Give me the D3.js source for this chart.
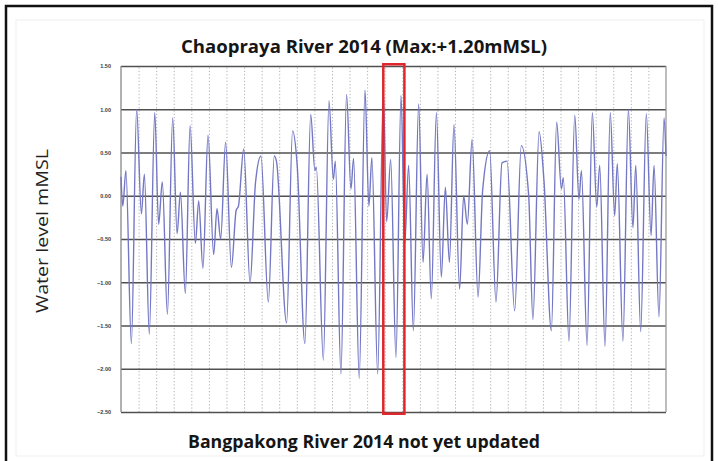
<!DOCTYPE html>
<html>
<head>
<meta charset="utf-8">
<script src="https://cdn.jsdelivr.net/npm/d3@7"></script>
<style>
  body { margin: 0; background: #fff; }
  svg { display: block; }
  .levelAxis text { font-family: "Liberation Sans", Arial, sans-serif; font-size: 5.5px; font-weight: bold; fill: #3a3a3a; }
  .chartTitle { font-family: "Open Sans", "Noto Sans", sans-serif; font-weight: 700; fill: #151515; }
</style>
</head>
<body>
<svg id="chart" width="718" height="461"></svg>
<script>
// Tide extremes (day of month, water level in mMSL).
var tideDay = [
  0.00, 0.10, 0.28, 0.59, 0.89, 1.16, 1.33, 1.61, 1.92, 2.14, 2.35, 2.64, 2.94, 3.19, 3.38, 3.66,
  3.93, 4.23, 4.42, 4.66, 4.95, 5.27, 5.46, 5.67, 5.95, 6.28, 6.55, 6.68, 6.98, 7.34, 7.65, 7.96,
  8.38, 8.72, 8.85, 9.42, 9.76, 10.02, 10.46, 10.79, 11.03, 11.11, 11.51, 11.83, 12.08, 12.19,
  12.51, 12.83, 13.08, 13.23, 13.55, 13.88, 14.10, 14.27, 14.60, 14.92, 15.11, 15.34, 15.64, 15.93,
  16.14, 16.36, 16.63, 16.93, 17.18, 17.41, 17.65, 17.94, 18.22, 18.45, 18.68, 18.94, 19.26, 19.49,
  19.70, 19.97, 20.31, 20.57, 20.97, 21.33, 21.67, 21.96, 22.39, 22.77, 23.19, 23.43, 23.78, 24.06,
  24.48, 24.78, 25.05, 25.16, 25.48, 25.81, 26.05, 26.19, 26.51, 26.81, 27.06, 27.23, 27.53, 27.83,
  28.08, 28.23, 28.55, 28.86, 29.12, 29.28, 29.56, 29.88, 30.15, 30.32, 30.60, 30.89, 31.00
];
var tideLevel = [
  0.22, -0.12, 0.29, -1.71, 1.00, -0.21, 0.25, -1.60, 0.96, -0.33, 0.16, -1.37, 0.90, -0.44, 0.04, -1.13,
  0.81, -0.55, -0.06, -0.84, 0.70, -0.68, -0.15, -0.50, 0.62, -0.83, -0.17, -0.12, 0.54, -1.01, 0.15, 0.46,
  -1.23, 0.46, 0.39, -1.47, 0.75, 0.36, -1.71, 0.94, 0.29, 0.33, -1.90, 1.10, 0.19, 0.40,
  -2.06, 1.17, 0.08, 0.43, -2.11, 1.22, -0.12, 0.44, -2.06, 1.20, -0.30, 0.42, -1.87, 1.16,
  -0.55, 0.35, -1.56, 1.06, -0.77, 0.25, -1.19, 0.96, -0.94, 0.10, -0.77, 0.82, -1.08, 0.00,
  -0.33, 0.65, -1.17, 0.06, 0.52, -1.23, 0.38, 0.40, -1.33, 0.58, 0.00, -1.43, 0.74, 0.17,
  -1.56, 0.85, 0.08, 0.21, -1.68, 0.93, -0.04, 0.29, -1.73, 0.96, -0.13, 0.35, -1.74, 0.96,
  -0.23, 0.37, -1.68, 1.00, -0.37, 0.35, -1.57, 0.95, -0.46, 0.35, -1.40, 0.90, 0.46
];

var levelTicks = [1.5, 1.0, 0.5, 0.0, -0.5, -1.0, -1.5, -2.0, -2.5];
var dayTicks = d3.range(1, 31);
var highlightDays = [14.92, 16.12];
var highlightLevels = [-2.52, 1.52];

var titleText = "Chaopraya River 2014 (Max:+1.20mMSL)";
var footText = "Bangpakong River 2014 not yet updated";
var levelTitle = "Water level mMSL";

var svg = d3.select("#chart");
var margin = { left: 121, right: 52, top: 66, bottom: 49 };
var width = 718 - margin.left - margin.right;
var height = 461 - margin.top - margin.bottom;

// Outer frame (bottom edge runs off the picture).
svg.append("rect")
  .attr("x", 16).attr("y", 20).attr("width", 688).attr("height", 436)
  .attr("fill", "none").attr("stroke", "#efefef").attr("stroke-width", 1);
svg.append("rect")
  .attr("x", 6).attr("y", 6).attr("width", 706).attr("height", 470)
  .attr("fill", "none").attr("stroke", "#111").attr("stroke-width", 2.5);

var x = d3.scaleLinear().domain([0, 31]).range([0, width]);
var y = d3.scaleLinear().domain([-2.5, 1.5]).range([height, 0]);

var plot = svg.append("g")
  .attr("transform", "translate(" + margin.left + "," + margin.top + ")");

// Dotted day grid.
plot.append("g")
  .attr("transform", "translate(0," + height + ")")
  .call(d3.axisBottom(x).tickValues(dayTicks).tickSize(-height).tickFormat(""))
  .call(function(g) {
    g.select(".domain").remove();
    g.selectAll("line")
      .attr("stroke", "#b4b4b4")
      .attr("stroke-width", 1)
      .attr("stroke-dasharray", "1.3,2");
  });

// Level grid lines.
plot.append("g")
  .call(d3.axisLeft(y).tickValues(levelTicks).tickSize(-width).tickFormat(""))
  .call(function(g) {
    g.select(".domain").remove();
    g.selectAll("line").attr("stroke", "#505050").attr("stroke-width", 1.4);
  });

// Side borders of the plot area.
plot.append("line")
  .attr("x1", 0).attr("x2", 0).attr("y1", 0).attr("y2", height)
  .attr("stroke", "#888").attr("stroke-width", 1.3);
plot.append("line")
  .attr("x1", width).attr("x2", width).attr("y1", 0).attr("y2", height)
  .attr("stroke", "#9a9a9a").attr("stroke-width", 1.3);

// Tick labels.
plot.append("g")
  .attr("class", "levelAxis")
  .call(d3.axisLeft(y).tickValues(levelTicks).tickSize(0).tickPadding(10).tickFormat(d3.format(".2f")))
  .call(function(g) { g.select(".domain").remove(); });

var line = d3.line()
  .x(function(d) { return x(d[0]); })
  .y(function(d) { return y(d[1]); })
  .curve(d3.curveMonotoneX);

plot.append("path")
  .datum(d3.zip(tideDay, tideLevel))
  .attr("d", line)
  .attr("fill", "none")
  .attr("stroke", "#7478c4")
  .attr("stroke-width", 1.4)
  .attr("stroke-linejoin", "round");

// Highlighted day.
plot.append("rect")
  .attr("x", x(highlightDays[0]))
  .attr("y", y(highlightLevels[1]))
  .attr("width", x(highlightDays[1]) - x(highlightDays[0]))
  .attr("height", y(highlightLevels[0]) - y(highlightLevels[1]))
  .attr("fill", "none")
  .attr("stroke", "#e0262b")
  .attr("stroke-width", 2.5);

svg.append("text")
  .attr("class", "chartTitle")
  .attr("x", 364).attr("y", 53)
  .attr("text-anchor", "middle")
  .attr("font-size", 18)
  .attr("textLength", 366).attr("lengthAdjust", "spacingAndGlyphs")
  .text(titleText);

svg.append("text")
  .attr("class", "chartTitle")
  .attr("x", 364).attr("y", 448)
  .attr("text-anchor", "middle")
  .attr("font-size", 18)
  .attr("textLength", 352).attr("lengthAdjust", "spacingAndGlyphs")
  .text(footText);

svg.append("text")
  .attr("transform", "translate(48,231) rotate(-90)")
  .attr("text-anchor", "middle")
  .attr("font-family", "'Open Sans', 'Noto Sans', sans-serif")
  .attr("font-size", 16)
  .attr("fill", "#222")
  .attr("textLength", 164).attr("lengthAdjust", "spacingAndGlyphs")
  .text(levelTitle);
</script>
</body>
</html>
